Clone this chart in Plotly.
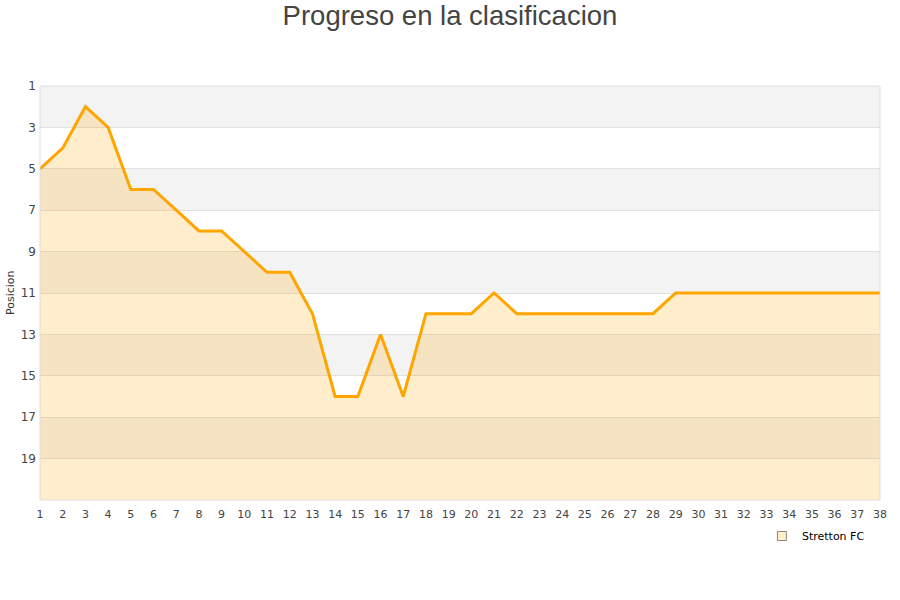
import plotly.graph_objects as go

jornadas = list(range(1, 39))
posiciones = [5, 4, 2, 3, 6, 6, 7, 8, 8, 9, 10, 10, 12, 16, 16, 13, 16, 12, 12, 12,
              11, 12, 12, 12, 12, 12, 12, 12, 11, 11, 11, 11, 11, 11, 11, 11, 11, 11]
y_ticks = [1, 3, 5, 7, 9, 11, 13, 15, 17, 19]
team = "Stretton FC"

fig = go.Figure()

fig.add_trace(go.Scatter(
    x=jornadas, y=[21] * len(jornadas), mode="lines",
    line=dict(width=0), showlegend=False, hoverinfo="skip"))
fig.add_trace(go.Scatter(
    x=jornadas, y=posiciones, mode="lines", name=team, showlegend=False,
    line=dict(color="#ffa500", width=3),
    fill="tonexty", fillcolor="rgba(255,165,0,0.2)"))
fig.add_trace(go.Scatter(
    x=[None], y=[None], mode="markers", name=team,
    marker=dict(symbol="square", size=9, color="#ffedcc",
                line=dict(color="#888888", width=1))))

shapes = []
for i, start in enumerate(range(1, 21, 2)):
    if i % 2 == 0:
        shapes.append(dict(type="rect", xref="paper", yref="y", x0=0, x1=1,
                           y0=start, y1=start + 2, fillcolor="#f3f3f3",
                           line=dict(width=0), layer="below"))
shapes.append(dict(type="rect", xref="paper", yref="paper", x0=0, x1=1, y0=0, y1=1,
                   line=dict(color="#dddddd", width=1), fillcolor="rgba(0,0,0,0)"))

fig.update_layout(
    width=900, height=600,
    margin=dict(l=40, r=20, t=86, b=100, autoexpand=False),
    paper_bgcolor="white", plot_bgcolor="white",
    title=dict(text="Progreso en la clasificacion", x=0.5, xanchor="center",
               y=1 - 15 / 600, yanchor="middle",
               font=dict(family="Liberation Sans, Arial", size=27.5, color="#444444")),
    font=dict(family="DejaVu Sans", color="#333333"),
    shapes=shapes,
    showlegend=True,
    legend=dict(orientation="h", x=0.988, xanchor="right", y=-0.087, yanchor="middle",
                font=dict(size=11, color="#000000"), bgcolor="rgba(0,0,0,0)",
                itemwidth=30),
    annotations=[dict(text="Posicion", xref="paper", yref="paper", x=0, y=0.5,
                      xanchor="center", yanchor="middle", xshift=-30, textangle=-90,
                      showarrow=False, font=dict(size=11, color="#333333"))],
    xaxis=dict(range=[1, 38], tickmode="array", tickvals=jornadas,
               ticktext=[str(j) for j in jornadas], showgrid=False, zeroline=False,
               tickfont=dict(size=11, color="#444444"), ticks="", showline=False,
               ticklabelstandoff=6, automargin=False),
    yaxis=dict(range=[21, 1], tickmode="array", tickvals=y_ticks,
               ticktext=[str(v) for v in y_ticks], showgrid=True,
               gridcolor="#e0e0e0", gridwidth=1, zeroline=False,
               tickfont=dict(size=12, color="#444444"), ticks="",
               ticklabelstandoff=3, automargin=False),
)

fig.write_html("out.html", config={"displayModeBar": False},
               post_script="document.body.style.margin='0';")
